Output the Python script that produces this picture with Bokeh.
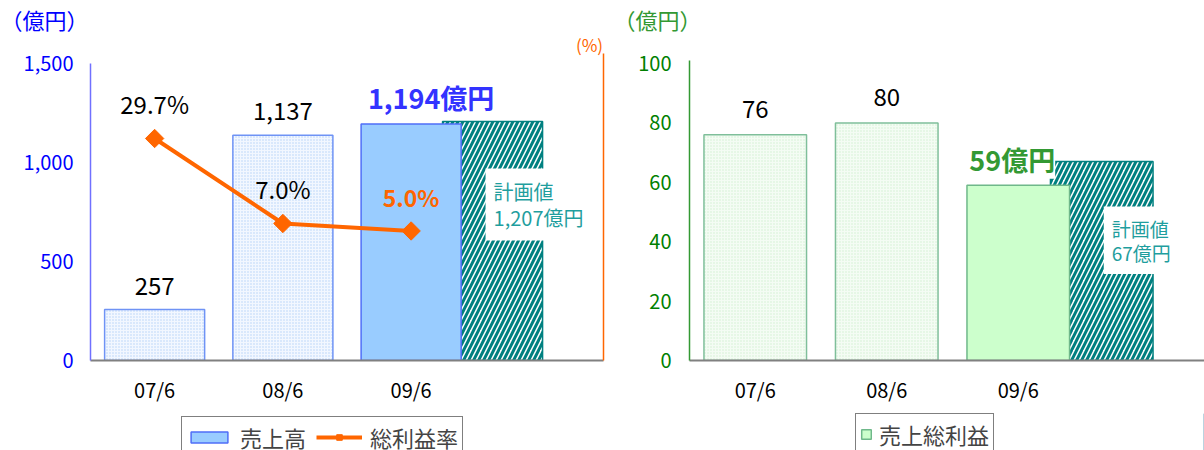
import numpy as np
from bokeh.plotting import figure
from bokeh.models import (Range1d, LinearAxis, Label, Legend, LegendItem,
                          FixedTicker)
from bokeh.layouts import row, column
from bokeh.embed import file_html
from bokeh.resources import INLINE
from bokeh.core.properties import value

# ---------------- data ----------------
categories = ["07/6", "08/6", "09/6"]
sales = [257, 1137, 1194]              # 売上高 (億円)
sales_labels = ["257", "1,137", "1,194億円"]
sales_plan = 1207                      # 計画値 (億円)
margin_rate = [29.7, 7.0, 5.0]         # 総利益率 (%)
margin_labels = ["29.7%", "7.0%", "5.0%"]
gross_profit = [76, 80, 59]            # 売上総利益 (億円)
profit_labels = ["76", "80", "59億円"]
profit_plan = 67
left_ticks = [0, 500, 1000, 1500]
right_ticks = [0, 20, 40, 60, 80, 100]
legend_left = ["売上高", "総利益率"]
legend_right = ["売上総利益"]

FONT = "Noto Sans CJK JP"
xs = [i + 0.5 for i in range(len(categories))]
plan_x = xs[-1] + 0.635
BW = 0.78
TEAL = "#008080"
TEAL_TXT = "#1f9e9e"
ORANGE = "#ff6600"
TOP = 34          # frame top (px); axes start lower, the area above holds unit labels
FH = 326          # frame height
AXIS_H = 297      # pixel height of the value axis
CH_H = 413        # chart figure height; legend strip below


def pct_at(ypx):
    # secondary (%) scale: 29.7% sits at y=138px and 7.0% at y=223px in the original
    return 29.7 + (138 - ypx) / 3.744


def base_fig(width, frame_w, ymax, min_left, min_right, xmax):
    p = figure(width=width, height=CH_H, frame_width=frame_w, frame_height=FH,
               x_range=Range1d(0, xmax), y_range=Range1d(0, ymax * FH / AXIS_H),
               output_backend="svg", toolbar_location=None,
               min_border_left=min_left, min_border_right=min_right,
               min_border_top=TOP, min_border_bottom=CH_H - TOP - FH)
    p.outline_line_color = None
    p.xgrid.visible = False
    p.ygrid.visible = False
    p.background_fill_color = "white"
    p.border_fill_color = "white"
    xa = p.xaxis[0]
    xa.ticker = FixedTicker(ticks=xs)
    xa.major_label_overrides = {x: c for x, c in zip(xs, categories)}
    xa.major_tick_line_color = None
    xa.minor_tick_line_color = None
    xa.major_tick_out = 0
    xa.major_label_standoff = 14
    xa.axis_line_color = "#808080"
    xa.axis_line_width = 2
    xa.major_label_text_font = FONT
    xa.major_label_text_font_size = "20px"
    xa.major_label_text_color = "black"
    ya = p.yaxis[0]
    ya.major_tick_line_color = None
    ya.minor_tick_line_color = None
    ya.major_tick_out = 0
    ya.major_label_standoff = 17
    ya.major_label_text_font = FONT
    ya.major_label_text_font_size = "20px"
    ya.axis_line_width = 1.5
    p.title.text_font = FONT
    p.title.text_font_size = "22px"
    p.title.text_font_style = "normal"
    p.title.align = "left"
    p.title.standoff = 0
    return p


# ================= left chart =================
p1 = base_fig(613, 513, 1500, 90, 10, 4)
p1.yaxis[0].ticker = FixedTicker(ticks=left_ticks)
p1.yaxis[0].bounds = (0, 1500)
p1.yaxis[0].major_label_overrides = {t: f"{t:,}" for t in left_ticks}
p1.yaxis[0].axis_line_color = "#7070ff"
p1.yaxis[0].major_label_text_color = "#0000ff"
p1.title.text = "（億円）"
p1.title.text_color = "#0000ff"
p1.title.offset = -90

pct_lo = pct_at(TOP + FH)
pct_hi = pct_at(TOP)
p1.extra_y_ranges = {"pct": Range1d(pct_lo, pct_hi)}
ax_r = LinearAxis(y_range_name="pct", axis_line_color=ORANGE, axis_line_width=1.5,
                  ticker=FixedTicker(ticks=[]), bounds=(pct_lo, pct_at(53)),
                  major_tick_line_color=None, minor_tick_line_color=None,
                  major_tick_out=0)
p1.add_layout(ax_r, "right")
p1.add_layout(Label(x=3.891, y=pct_at(44), y_range_name="pct", text="(%)",
                    text_align="center", text_baseline="middle", text_font=FONT,
                    text_font_size="17px", text_color=ORANGE))

# plan bar (hatched)
p1.vbar(x=[plan_x], top=[sales_plan], width=BW, fill_color="white",
        hatch_pattern="/", hatch_color=TEAL, hatch_weight=3, hatch_scale=10,
        line_color=TEAL, line_width=1.5)
# past bars (dotted)
p1.vbar(x=xs[:2], top=sales[:2], width=BW, fill_color="#f2f7ff",
        hatch_pattern=".", hatch_color="#b3d1f7", hatch_scale=3, hatch_weight=1,
        line_color="#6f93f5", line_width=1.5)
p1.vbar(x=xs[2:], top=sales[2:], width=BW, fill_color="#99ccff",
        line_color="#4f6ef7", line_width=1.5)

# rate line
p1.line(xs, margin_rate, y_range_name="pct", line_color=ORANGE, line_width=4)
p1.scatter(xs, margin_rate, y_range_name="pct", marker="square",
           angle=np.pi / 4, size=13, fill_color=ORANGE, line_color=ORANGE)

# value labels
p1.text(x=xs[:2], y=sales[:2], text=sales_labels[:2], text_align="center",
        text_baseline="middle", y_offset=-24, text_font=value(FONT),
        text_font_size="24px", text_color="black")
p1.text(x=xs[2:], y=sales[2:], text=sales_labels[2:], text_align="center",
        text_baseline="middle", x_offset=20, y_offset=-27, text_font=value(FONT),
        text_font_size="27px", text_font_style="bold", text_color="#3333ff")
p1.text(x=xs[:2], y=margin_rate[:2], y_range_name="pct", text=margin_labels[:2],
        text_align="center", text_baseline="middle", y_offset=-35,
        text_font=value(FONT), text_font_size="24px", text_color="black")
p1.text(x=xs[2:], y=margin_rate[2:], y_range_name="pct", text=margin_labels[2:],
        text_align="center", text_baseline="middle", y_offset=-34,
        text_font=value(FONT), text_font_size="23px", text_font_style="bold",
        text_color=ORANGE)

p1.add_layout(Label(x=plan_x, y=sales_plan, x_offset=-7, y_offset=-47,
                    text=f"計画値\n{sales_plan:,}億円", text_align="left",
                    text_baseline="top", text_font=FONT, text_font_size="20px",
                    text_line_height=0.93, text_color=TEAL_TXT,
                    background_fill_color="white", padding=8))

# ================= right chart =================
p2 = base_fig(591, 515, 100, 76, 0, 515 / 131.5)
p2.yaxis[0].ticker = FixedTicker(ticks=right_ticks)
p2.yaxis[0].bounds = (0, 101)
p2.yaxis[0].axis_line_color = "#339933"
p2.yaxis[0].major_label_text_color = "#008000"
p2.yaxis[0].major_label_standoff = 18
p2.title.text = "（億円）"
p2.title.text_color = "#339933"
p2.title.offset = -76

p2.vbar(x=[plan_x], top=[profit_plan], width=BW, fill_color="white",
        hatch_pattern="/", hatch_color=TEAL, hatch_weight=3, hatch_scale=10,
        line_color=TEAL, line_width=1.5)
p2.vbar(x=xs[:2], top=gross_profit[:2], width=BW, fill_color="#f4fcf4",
        hatch_pattern=".", hatch_color="#d2efd2", hatch_scale=3, hatch_weight=1,
        line_color="#7fbf9a", line_width=1.5)
p2.vbar(x=xs[2:], top=gross_profit[2:], width=BW, fill_color="#ccffcc",
        line_color="#6fb88a", line_width=1.5)

p2.text(x=xs[:2], y=gross_profit[:2], text=profit_labels[:2], text_align="center",
        text_baseline="middle", y_offset=-26, text_font=value(FONT),
        text_font_size="24px", text_color="black")
p2.add_layout(Label(x=xs[2], y=gross_profit[2], x_offset=-6, y_offset=26,
                    text=profit_labels[2], text_align="center",
                    text_baseline="middle", text_font=FONT,
                    text_font_size="27px", text_font_style="bold",
                    text_color="#339933", background_fill_color="white",
                    padding=0))

p2.add_layout(Label(x=plan_x, y=profit_plan, x_offset=2, y_offset=-45,
                    text=f"計画値\n{profit_plan}億円", text_align="left",
                    text_baseline="top", text_font=FONT, text_font_size="19px",
                    text_line_height=0.91, text_color=TEAL_TXT,
                    background_fill_color="white", padding=8))

# ================= legend strip =================
LH = 450 - CH_H
pl = figure(width=1204, height=LH, x_range=Range1d(0, 0.4), y_range=Range1d(0, 1),
            x_axis_type=None, y_axis_type=None, output_backend="svg",
            toolbar_location=None, min_border=0, min_border_left=0,
            min_border_right=0, min_border_top=0, min_border_bottom=0)
pl.outline_line_color = None
pl.grid.visible = False
pl.title.visible = False
# legend keys: same series and styles as the charts (their marks fall outside this strip's view)
k_sales = pl.vbar(x=xs[2:], top=sales[2:], width=BW, fill_color="#99ccff",
                  line_color="#4f6ef7", line_width=1.5)
k_line = pl.line(xs, margin_rate, line_color=ORANGE, line_width=4)
k_pts = pl.scatter(xs, margin_rate, marker="square", angle=np.pi / 4, size=13,
                   fill_color=ORANGE, line_color=ORANGE)
k_gp = pl.vbar(x=xs[2:], top=gross_profit[2:], width=BW, fill_color="#ccffcc",
               line_color="#6fb88a", line_width=1.5)

leg_style = dict(orientation="horizontal", label_text_font=FONT,
                 label_text_font_size="22px", spacing=10, padding=4, margin=0,
                 border_line_color="black", border_line_width=1,
                 background_fill_alpha=1)
leg1 = Legend(items=[LegendItem(label=legend_left[0], renderers=[k_sales]),
                     LegendItem(label=legend_left[1], renderers=[k_line, k_pts])],
              location=(181, -8), glyph_width=46, glyph_height=14,
              label_standoff=8, **leg_style)
leg2 = Legend(items=[LegendItem(label=legend_right[0], renderers=[k_gp])],
              location=(855, -5), glyph_width=12, glyph_height=12,
              label_standoff=7, **leg_style)
pl.add_layout(leg1)
pl.add_layout(leg2)

layout = column(row(p1, p2), pl)
open("out.html", "w").write(file_html(layout, INLINE))
